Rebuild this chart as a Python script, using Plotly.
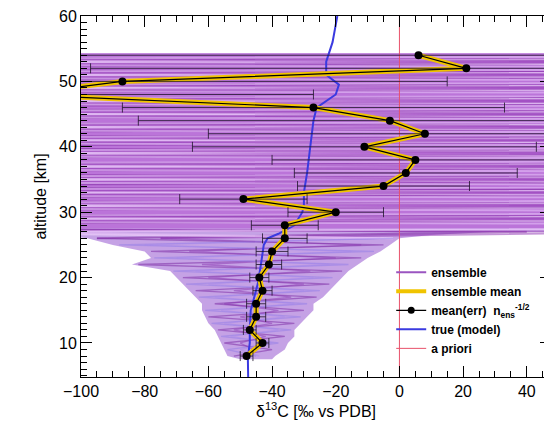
import plotly.graph_objects as go

# ---------------- data ----------------
# ensemble mean / mean(err) points (altitude km, delta13C permil)
MEAN_ALT = [8, 10, 12, 14, 16, 18, 20, 22, 24, 26, 28, 30, 32, 34, 36, 38, 40, 42, 44, 46, 48, 50, 52, 54]
MEAN_VAL = [-48, -43, -47, -45, -45, -43, -44, -41, -40, -36, -36, -20, -49, -5, 2, 5, -11, 8, -3, -27, -120, -87, 21, 6]
MEAN_ERR = [2, 2, 2, 3, 3, 3, 3, 4, 5, 7, 10.5, 15, 20, 27, 35, 45, 54, 68, 79, 60, 93, 102, 118, 130]

# true (model) profile
TRUE_ALT = [4.8, 7.7, 10, 12, 15, 17, 19, 22, 25, 26, 26.7, 28, 30, 31, 33, 36, 40, 44, 46, 48, 49.5, 51, 53, 56, 60]
TRUE_VAL = [-47.5, -47.6, -47, -47, -46.7, -45.7, -44.5, -43.5, -42.6, -41.4, -38, -33, -30.5, -30, -30, -29, -28,
            -27, -26, -20, -19, -23, -23, -21, -19.5]

# a priori
APRIORI_ALT = [4.8, 60]
APRIORI_VAL = [0, 0]

# ensemble envelope
ENV_ALT = [7.5, 8, 9, 10, 11, 12, 13, 14, 15, 16, 17, 18, 19, 20, 21, 22, 23, 24, 25, 26, 26.5, 27, 27.5, 54.3]
ENV_LEFT = [-50, -54, -55, -56, -57, -58, -60, -61, -62, -62, -64, -66, -68, -70, -72, -84, -78, -80, -90, -98,
            -105, -200, -300, -300]
ENV_RIGHT = [-40, -39, -36, -35, -33, -33, -31, -29, -27, -27, -24, -22, -20, -18, -16, -13, -10, -6, -3, 0,
             10, 30, 300, 300]

# ensemble members
ENS_ALT = [8, 9, 10, 11, 12, 13, 14, 15, 16, 17, 18, 19, 20, 21, 22, 23, 24, 25, 26, 27,
           28, 29, 30, 31, 32, 33, 34, 35, 36, 37, 38, 39, 40, 41, 42, 43, 44, 45, 46, 47, 48, 49, 50, 51, 52, 53, 54]
ENS_A = [-52, -40, -55, -36, -57, -33, -60, -30, -58, -26, -64, -22, -68, -18, -82, -12, -78, -5, -95, 40,
         -380, 320, -420, 290, -350, 360, -300, 410, -390, 280, -450, 330, -310, 390, -360, 300, -430, 350, -320,
         420, -400, 310, -370, 380, -340, 290, -410]
ENS_B = [-45, -54, -38, -56, -34, -59, -31, -61, -29, -63, -25, -67, -21, -71, -16, -77, -8, -88, -2, -160,
         450, -150, 520, -180, 480, -140, 560, -170, 500, -160, 470, -190, 540, -150, 510, -175, 490, -145, 530,
         -165, 480, -185, 520, -155, 500, -170, 460]
ENS_C = [-48, -46, -50, -42, -52, -40, -50, -38, -55, -34, -52, -30, -60, -28, -62, -20, -66, -12, -75, 90,
         -620, 130, -580, 160, -640, 120, -600, 150, -560, 140, -610, 170, -590, 125, -630, 155, -570, 135, -620,
         165, -600, 145, -580, 130, -640, 160, -590]
ENS_D = [-44, -50, -40, -53, -38, -55, -36, -56, -33, -58, -30, -60, -27, -64, -22, -70, -15, -80, -6, -120,
         260, -520, 240, -480, 270, -540, 230, -500, 255, -530, 245, -490, 265, -510, 235, -525, 250, -505, 240,
         -515, 260, -495, 230, -535, 250, -500, 245]

X_RANGE = [-100, 47.6]
Y_RANGE = [4.8, 60]
SPLIT = 19  # index of 27 km: lower funnel part / upper band part

# ---------------- figure ----------------
fig = go.Figure()

# envelope fill
fig.add_trace(go.Scatter(
    x=ENV_LEFT + ENV_RIGHT[::-1], y=ENV_ALT + ENV_ALT[::-1],
    fill="toself", fillcolor="rgba(155,95,210,0.58)", line=dict(width=0),
    mode="lines", showlegend=False, hoverinfo="skip"))
# denser upper band
UP_ALT = [a for a in ENV_ALT if a >= 27.5]
fig.add_trace(go.Scatter(
    x=[-300, -300, 300, 300], y=[UP_ALT[0], UP_ALT[-1], UP_ALT[-1], UP_ALT[0]],
    fill="toself", fillcolor="rgba(178,78,208,0.55)", line=dict(width=0),
    mode="lines", showlegend=False, hoverinfo="skip"))

member_styles = [
    (ENS_A, "rgba(125,35,160,0.55)", "rgba(125,45,165,0.55)"),
    (ENS_B, "rgba(235,205,250,0.75)", "rgba(140,120,230,0.45)"),
    (ENS_C, "rgba(140,45,175,0.5)", "rgba(135,50,175,0.5)"),
    (ENS_D, "rgba(225,185,245,0.65)", "rgba(165,135,235,0.45)"),
]
for vals, col_up, col_low in member_styles:
    fig.add_trace(go.Scatter(
        x=vals[SPLIT - 1:], y=ENS_ALT[SPLIT - 1:], mode="lines", line=dict(color=col_up, width=2),
        showlegend=False, hoverinfo="skip"))
    fig.add_trace(go.Scatter(
        x=vals[:SPLIT], y=ENS_ALT[:SPLIT], mode="lines", line=dict(color=col_low, width=1.3),
        showlegend=False, hoverinfo="skip"))

# a priori
fig.add_trace(go.Scatter(x=APRIORI_VAL, y=APRIORI_ALT, mode="lines",
                         line=dict(color="#e8506a", width=1), showlegend=False))
# true model
fig.add_trace(go.Scatter(x=TRUE_VAL, y=TRUE_ALT, mode="lines",
                         line=dict(color="#3a3ae0", width=2), showlegend=False))
# ensemble mean
fig.add_trace(go.Scatter(x=MEAN_VAL, y=MEAN_ALT, mode="lines",
                         line=dict(color="#f0c400", width=5), showlegend=False))
# mean(err)
fig.add_trace(go.Scatter(
    x=MEAN_VAL, y=MEAN_ALT, mode="lines+markers",
    line=dict(color="black", width=1.2), marker=dict(color="black", size=8),
    error_x=dict(type="data", array=MEAN_ERR, color="rgba(30,20,40,0.8)", thickness=1, width=5),
    showlegend=False))

# legend entries
LEG_FONT = dict(family="Liberation Sans", size=12, color="black", weight="bold")
fig.add_trace(go.Scatter(x=[None], y=[None], mode="lines", line=dict(color="#9a55c0", width=2),
                         name="ensemble"))
fig.add_trace(go.Scatter(x=[None], y=[None], mode="lines", line=dict(color="#f0c400", width=4),
                         name="ensemble mean"))
fig.add_trace(go.Scatter(x=[None], y=[None], mode="lines+markers", line=dict(color="black", width=1.2),
                         marker=dict(color="black", size=7),
                         name="mean(err)  n<sub>ens</sub><sup>-1/2</sup>"))
fig.add_trace(go.Scatter(x=[None], y=[None], mode="lines", line=dict(color="#3a3ae0", width=2),
                         name="true (model)"))
fig.add_trace(go.Scatter(x=[None], y=[None], mode="lines", line=dict(color="#e8506a", width=1),
                         name="a priori"))

# the page body adds an 8px offset, so the figure is 8px smaller than the window
AX_FONT = dict(family="Liberation Sans", size=16, color="black")
fig.update_layout(
    width=544, height=421,
    margin=dict(l=73, r=1, t=8, b=52, autoexpand=False),
    paper_bgcolor="white", plot_bgcolor="white",
    font=AX_FONT,
    showlegend=True,
    legend=dict(x=0.66, y=0.33, xanchor="left", yanchor="top", bgcolor="rgba(0,0,0,0)",
                font=LEG_FONT, tracegroupgap=0, itemwidth=30),
    xaxis=dict(range=X_RANGE, showgrid=False, zeroline=False, showline=True, linecolor="black",
               linewidth=1, mirror="allticks", ticks="inside", ticklen=11, tickcolor="black",
               tick0=0, dtick=20, tickfont=AX_FONT, automargin=False, ticklabeloverflow="allow",
               minor=dict(ticks="inside", ticklen=6, dtick=5, tickcolor="black", showgrid=False),
               title=dict(text="δ<sup>13</sup>C [‰ vs PDB]", font=AX_FONT, standoff=6)),
    yaxis=dict(range=Y_RANGE, showgrid=False, zeroline=False, showline=True, linecolor="black",
               linewidth=1, mirror="allticks", ticks="inside", ticklen=11, tickcolor="black",
               tick0=0, dtick=10, tickfont=AX_FONT, automargin=False, ticklabeloverflow="allow",
               minor=dict(ticks="inside", ticklen=6, dtick=1, tickcolor="black", showgrid=False),
               title=dict(text="altitude [km]", font=AX_FONT, standoff=8)),
)

fig.write_html("out.html")
